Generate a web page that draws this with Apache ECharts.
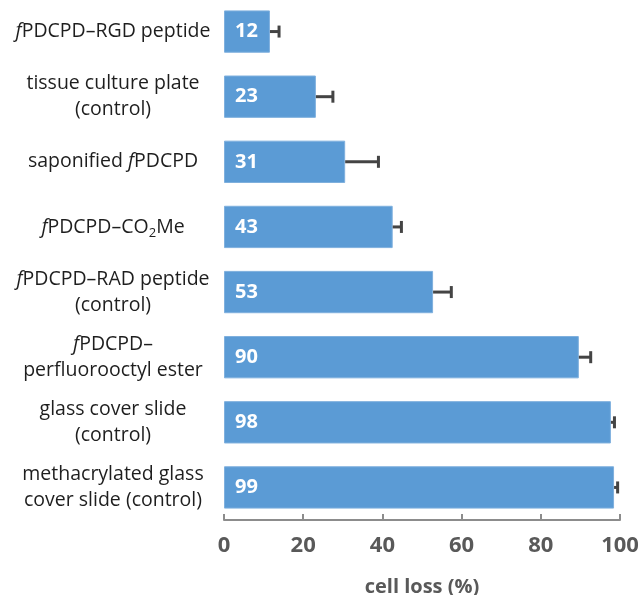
<!DOCTYPE html>
<html><head><meta charset="utf-8">
<script src="https://cdn.jsdelivr.net/npm/echarts@6/dist/echarts.min.js"></script>
<style>html,body{margin:0;padding:0;background:#fff}#c{width:640px;height:595px}</style>
</head><body><div id="c"></div>
<script>
var categories = [
  '{i|f}PDCPD–RGD peptide',
  'tissue culture plate\n(control)',
  'saponified {i|f}PDCPD',
  '{i|f}PDCPD–CO{sub|2}Me',
  '{i|f}PDCPD–RAD peptide\n(control)',
  '{i|f}PDCPD–\nperfluorooctyl ester',
  'glass cover slide\n(control)',
  'methacrylated glass\ncover slide (control)'
];
var cellLoss = [11.6, 23.2, 30.6, 42.6, 52.8, 89.6, 97.7, 98.5];
var errors = [2.3, 4.3, 8.4, 2.2, 4.6, 3.0, 0.9, 0.9];
var xTicks = [0, 20, 40, 60, 80, 100];

var chart = echarts.init(document.getElementById('c'));
var font = 'Open Sans';
chart.setOption({
  animation: false,
  grid: {left: 224, right: 20, top: -1, bottom: 75, containLabel: false, outerBoundsMode: 'none'},
  xAxis: {
    type: 'value', min: 0, max: 100, interval: 20,
    name: 'cell loss (%)', nameLocation: 'middle', nameGap: 57,
    nameTextStyle: {fontFamily: font, fontSize: 20, fontWeight: 'bold', color: '#595959'},
    axisLine: {show: true, lineStyle: {color: '#8c8c8c', width: 2}},
    axisTick: {show: true, inside: true, length: 6, lineStyle: {color: '#8c8c8c', width: 2}},
    splitLine: {show: false},
    axisLabel: {fontFamily: font, fontSize: 22, fontWeight: 'bold', color: '#595959', margin: 15,
      formatter: function (v) { return xTicks.indexOf(v) >= 0 ? String(v) : ''; }}
  },
  yAxis: {
    type: 'category', data: categories, inverse: true,
    axisLine: {show: false}, axisTick: {show: false},
    axisLabel: {
      fontFamily: font, fontSize: 19.5, color: '#1e1e1e', align: 'center', margin: 111, lineHeight: 26,
      rich: {
        i: {fontFamily: font, fontSize: 19.5, fontStyle: 'italic', color: '#1e1e1e', lineHeight: 26},
        sub: {fontFamily: font, fontSize: 13, color: '#1e1e1e', verticalAlign: 'bottom', padding: [10, 0, 0, 0], lineHeight: 26}
      }
    }
  },
  series: [{
    type: 'bar', data: cellLoss, barCategoryGap: '35%',
    itemStyle: {color: '#5b9bd5', borderColor: '#7fb0de', borderWidth: 1},
    label: {show: true, position: 'insideLeft', distance: 11, color: '#fff',
      fontFamily: font, fontSize: 20, fontWeight: 'bold',
      formatter: function (p) { return Math.round(p.value); }},
    z: 2
  }, {
    type: 'custom',
    data: cellLoss.map(function (v, i) { return [i, v, errors[i]]; }),
    encode: {x: 1, y: 0},
    renderItem: function (params, api) {
      var i = api.value(0), v = api.value(1), e = api.value(2);
      var p0 = api.coord([v, i]);
      var p1 = api.coord([v + e, i]);
      var h = 6;
      return {type: 'group', children: [
        {type: 'line', shape: {x1: p0[0], y1: p0[1], x2: p1[0], y2: p1[1]}, style: {stroke: '#444', lineWidth: 3}},
        {type: 'line', shape: {x1: p1[0], y1: p1[1] - h, x2: p1[0], y2: p1[1] + h}, style: {stroke: '#444', lineWidth: 3}}
      ]};
    },
    z: 3
  }]
});
</script></body></html>
